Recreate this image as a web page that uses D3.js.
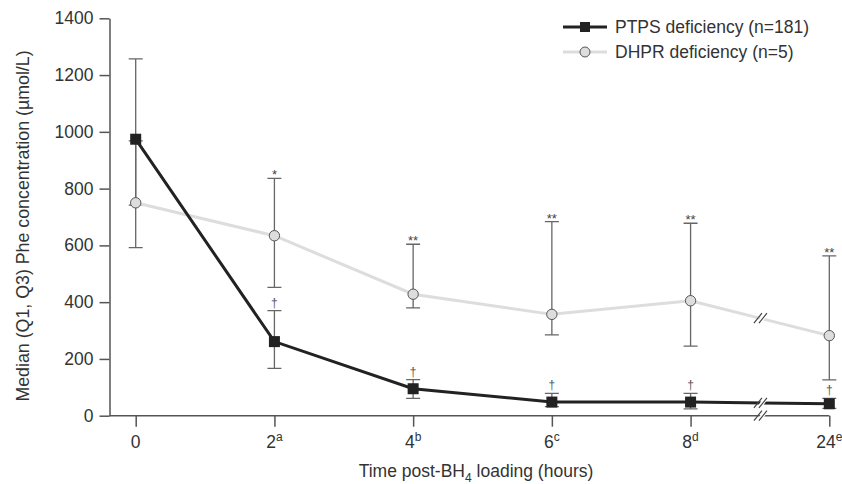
<!DOCTYPE html>
<html>
<head>
<meta charset="utf-8">
<script src="https://cdn.jsdelivr.net/npm/d3@7"></script>
<style>
  body { margin: 0; background: #fff; }
  text { font-family: "Liberation Sans", Arial, Helvetica, sans-serif; }
</style>
</head>
<body>
<div class="chart"></div>
<script>
// data
const times = ['0', '2', '4', '6', '8', '24']
const timeSup = ['', 'a', 'b', 'c', 'd', 'e']
const yTicks = [0, 200, 400, 600, 800, 1000, 1200, 1400]

const ptpsMedian = [974, 261, 95, 48, 48, 42]
const ptpsQ1 = [742, 167, 61, 32, 24, 26]
const ptpsQ3 = [1257, 370, 127, 79, 79, 61]
const ptpsMark = ['', '†', '†', '†', '†', '†']

const dhprMedian = [750, 634, 428, 357, 405, 282]
const dhprQ1 = [592, 452, 380, 285, 245, 126]
const dhprQ3 = [968, 836, 604, 684, 678, 563]
const dhprMark = ['', '*', '**', '**', '**', '**']

const width = 842
const height = 484

const x = d3.scalePoint().domain(times).range([135.7, 829.3])
const y = d3.scaleLinear().domain([0, 1400]).range([415.7, 18.3])
const breakX = (x('8') + x('24')) / 2

const svg = d3.select('.chart')
  .append('svg')
  .attr('width', width)
  .attr('height', height)

// y axis
const yAxis = svg.append('g')
  .attr('transform', 'translate(109.5,0)')
  .call(d3.axisLeft(y).tickValues(yTicks).tickFormat(d3.format('d')).tickSize(10).tickPadding(6).tickSizeOuter(0))
yAxis.select('.domain').attr('stroke', '#555').attr('stroke-width', 1.5)
yAxis.selectAll('.tick line').attr('stroke', '#555').attr('stroke-width', 1.5)
yAxis.selectAll('.tick text')
  .attr('font-size', 17.5)
  .attr('font-family', '"Liberation Sans", Arial, sans-serif')
  .attr('fill', '#333')

// x axis
const xAxis = svg.append('g')
  .attr('transform', 'translate(0,415.7)')
  .call(d3.axisBottom(x).tickSize(11).tickFormat('').tickSizeOuter(0))
xAxis.select('.domain')
  .attr('d', 'M109.5,0H' + x('24'))
  .attr('stroke', '#555').attr('stroke-width', 1.5)
xAxis.selectAll('.tick line').attr('stroke', '#555').attr('stroke-width', 1.5)

const xLabels = svg.selectAll('.xlab')
  .data(times)
  .enter()
  .append('text')
  .attr('class', 'xlab')
  .attr('x', d => x(d))
  .attr('y', 448)
  .attr('text-anchor', 'middle')
  .attr('font-size', 17.5)
  .attr('fill', '#333')
xLabels.append('tspan').text(d => d)
xLabels.append('tspan')
  .attr('dy', -7)
  .attr('font-size', 12)
  .text((d, i) => timeSup[i])

// axis titles
const xTitle = svg.append('text')
  .attr('x', 476)
  .attr('y', 477)
  .attr('text-anchor', 'middle')
  .attr('font-size', 17.5)
  .attr('fill', '#333')
xTitle.append('tspan').text('Time post-BH')
xTitle.append('tspan').attr('dy', 5).attr('font-size', 12).text('4')
xTitle.append('tspan').attr('dy', -5).text(' loading (hours)')

svg.append('text')
  .attr('transform', 'translate(29,226) rotate(-90)')
  .attr('text-anchor', 'middle')
  .attr('font-size', 17.8)
  .attr('fill', '#333')
  .text('Median (Q1, Q3) Phe concentration (µmol/L)')

// error bars
function errorBars(q1, q3) {
  const g = svg.append('g')
    .attr('stroke', '#666')
    .attr('stroke-width', 1.3)
  g.selectAll('.bar')
    .data(times)
    .enter()
    .append('path')
    .attr('fill', 'none')
    .attr('d', (d, i) => {
      const cx = x(d)
      return 'M' + (cx - 7) + ',' + y(q3[i]) + 'H' + (cx + 7) +
        'M' + cx + ',' + y(q3[i]) + 'V' + y(q1[i]) +
        'M' + (cx - 7) + ',' + y(q1[i]) + 'H' + (cx + 7)
    })
}
errorBars(dhprQ1, dhprQ3)
errorBars(ptpsQ1, ptpsQ3)

// significance marks
svg.selectAll('.dmark')
  .data(times)
  .enter()
  .append('text')
  .attr('x', d => x(d))
  .attr('y', (d, i) => y(dhprQ3[i]) + 1)
  .attr('text-anchor', 'middle')
  .attr('font-size', 13)
  .attr('fill', '#444')
  .text((d, i) => dhprMark[i])

const daggers = svg.append('g')
  .attr('opacity', 0.99)
daggers.selectAll('.pmark')
  .data(times)
  .enter()
  .append('text')
  .attr('x', d => x(d))
  .attr('y', (d, i) => y(ptpsQ3[i]) - 4)
  .attr('text-anchor', 'middle')
  .attr('font-size', 12)
  .attr('font-family', '"DejaVu Sans", sans-serif')
  .attr('fill', '#555')
  .text((d, i) => ptpsMark[i])

const line = d3.line()
  .x((d, i) => x(times[i]))
  .y(d => y(d))

// DHPR series
svg.append('path')
  .datum(dhprMedian)
  .attr('d', line)
  .attr('fill', 'none')
  .attr('stroke', '#ddd')
  .attr('stroke-width', 3)

// PTPS series
svg.append('path')
  .datum(ptpsMedian)
  .attr('d', line)
  .attr('fill', 'none')
  .attr('stroke', '#222')
  .attr('stroke-width', 3)

// axis break marks on lines and on x axis
function lineY(vals, px) {
  const x0 = x('8'), x1 = x('24')
  const t = (px - x0) / (x1 - x0)
  return y(vals[4]) + t * (y(vals[5]) - y(vals[4]))
}
const breaks = [lineY(dhprMedian, breakX), lineY(ptpsMedian, breakX), 415.7]
breaks.forEach(by => {
  svg.append('path')
    .attr('d', 'M' + (breakX - 3.5) + ',' + (by + 5) + 'L' + (breakX + 3.5) + ',' + (by - 5) + 'L' + (breakX + 8.5) + ',' + (by - 5) + 'L' + (breakX + 1.5) + ',' + (by + 5) + 'Z')
    .attr('fill', '#fff')
  svg.append('path')
    .attr('d', 'M' + (breakX - 6) + ',' + (by + 5) + 'L' + (breakX + 2) + ',' + (by - 5) +
      'M' + (breakX - 1) + ',' + (by + 5) + 'L' + (breakX + 7) + ',' + (by - 5))
    .attr('stroke', '#444')
    .attr('stroke-width', 1.2)
})

// markers
svg.selectAll('.circ')
  .data(dhprMedian)
  .enter()
  .append('circle')
  .attr('cx', (d, i) => x(times[i]))
  .attr('cy', d => y(d))
  .attr('r', 5.2)
  .attr('fill', '#ddd')
  .attr('stroke', '#555')
  .attr('stroke-width', 1)

svg.selectAll('.sq')
  .data(ptpsMedian)
  .enter()
  .append('rect')
  .attr('x', (d, i) => x(times[i]) - 5.5)
  .attr('y', d => y(d) - 5.5)
  .attr('width', 11)
  .attr('height', 11)
  .attr('fill', '#222')

// legend
const legend = svg.append('g')
legend.append('line')
  .attr('x1', 563).attr('x2', 607).attr('y1', 27).attr('y2', 27)
  .attr('stroke', '#222').attr('stroke-width', 3)
legend.append('rect')
  .attr('x', 580).attr('y', 22).attr('width', 10).attr('height', 10)
  .attr('fill', '#222')
legend.append('text')
  .attr('x', 615).attr('y', 33)
  .attr('font-size', 17.5)
  .attr('fill', '#333')
  .text('PTPS deficiency (n=181)')
legend.append('line')
  .attr('x1', 563).attr('x2', 607).attr('y1', 52).attr('y2', 52)
  .attr('stroke', '#ddd').attr('stroke-width', 3)
legend.append('circle')
  .attr('cx', 585).attr('cy', 52).attr('r', 5)
  .attr('fill', '#ddd').attr('stroke', '#555').attr('stroke-width', 1)
legend.append('text')
  .attr('x', 615).attr('y', 58)
  .attr('font-size', 17.5)
  .attr('fill', '#333')
  .text('DHPR deficiency (n=5)')
</script>
</body>
</html>
